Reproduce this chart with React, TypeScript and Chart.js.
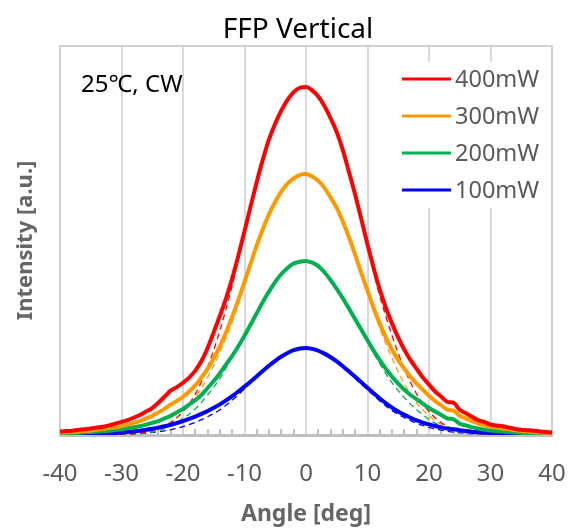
import React, { useEffect, useRef } from "react";
import { Chart, registerables } from "chart.js";

Chart.register(...registerables);

const FONT = '"Noto Sans", "Noto Sans CJK JP", sans-serif';

const chartTitle = "FFP Vertical";
const annotationText = "25℃, CW";
const xTitle = "Angle [deg]";
const yTitle = "Intensity [a.u.]";

const xTickValues = [-40, -30, -20, -10, 0, 10, 20, 30, 40];

const seriesLabels = ["400mW", "300mW", "200mW", "100mW"];
const seriesColors = ["#ff0000", "#ff9900", "#00b050", "#0000ff"];

// measured angles (deg)
const angles = [
  -40, -39, -38, -37, -36, -35, -34, -33, -32, -31, -30, -29, -28, -27, -26, -25, -24, -23, -22, -21,
  -20, -19, -18, -17, -16, -15, -14, -13, -12, -11, -10, -9, -8, -7, -6, -5, -4, -3, -2, -1,
  0, 1, 2, 3, 4, 5, 6, 7, 8, 9, 10, 11, 12, 13, 14, 15, 16, 17, 18, 19,
  20, 21, 22, 23, 24, 25, 26, 27, 28, 29, 30, 31, 32, 33, 34, 35, 36, 37, 38, 39, 40,
];

const meas400 = [
  0.04, 0.045, 0.05, 0.06, 0.065, 0.075, 0.085, 0.095, 0.11, 0.13, 0.15, 0.17, 0.2, 0.23, 0.27, 0.31, 0.37, 0.44, 0.51, 0.55,
  0.6, 0.66, 0.74, 0.85, 1.0, 1.18, 1.37, 1.57, 1.8, 2.06, 2.34, 2.63, 2.91, 3.17, 3.4, 3.58, 3.73, 3.85, 3.94, 3.99,
  4.0, 3.96, 3.89, 3.78, 3.64, 3.48, 3.27, 3.02, 2.76, 2.48, 2.19, 1.92, 1.67, 1.46, 1.28, 1.12, 0.98, 0.86, 0.76, 0.66,
  0.58, 0.5, 0.44, 0.38, 0.37, 0.29, 0.25, 0.21, 0.17, 0.15, 0.12, 0.11, 0.1, 0.085, 0.07, 0.06, 0.055, 0.05, 0.04, 0.035, 0.03,
];

const meas300 = [
  0.03, 0.03, 0.035, 0.04, 0.045, 0.05, 0.06, 0.07, 0.08, 0.09, 0.1, 0.12, 0.14, 0.16, 0.19, 0.22, 0.26, 0.3, 0.35, 0.39,
  0.44, 0.5, 0.57, 0.66, 0.76, 0.88, 1.02, 1.18, 1.36, 1.55, 1.76, 1.97, 2.18, 2.37, 2.54, 2.68, 2.8, 2.89, 2.95, 2.99,
  3.0, 2.97, 2.92, 2.84, 2.73, 2.61, 2.45, 2.27, 2.07, 1.86, 1.66, 1.46, 1.28, 1.12, 0.98, 0.86, 0.76, 0.67, 0.59, 0.52,
  0.45, 0.39, 0.34, 0.29, 0.28, 0.22, 0.19, 0.16, 0.13, 0.11, 0.095, 0.085, 0.075, 0.065, 0.055, 0.045, 0.04, 0.035, 0.03, 0.025, 0.02,
];

const meas200 = [
  0.015, 0.018, 0.02, 0.024, 0.028, 0.033, 0.038, 0.044, 0.05, 0.058, 0.067, 0.077, 0.088, 0.1, 0.12, 0.14, 0.16, 0.19, 0.22, 0.26,
  0.3, 0.35, 0.4, 0.46, 0.54, 0.62, 0.71, 0.81, 0.91, 1.02, 1.14, 1.27, 1.4, 1.53, 1.65, 1.76, 1.85, 1.92, 1.97, 1.99,
  2.0, 1.98, 1.94, 1.87, 1.78, 1.68, 1.57, 1.45, 1.33, 1.21, 1.09, 0.97, 0.86, 0.76, 0.67, 0.59, 0.52, 0.46, 0.41, 0.36,
  0.31, 0.27, 0.23, 0.19, 0.18, 0.13, 0.11, 0.09, 0.075, 0.062, 0.052, 0.045, 0.04, 0.034, 0.029, 0.024, 0.02, 0.017, 0.014, 0.012, 0.01,
];

const meas100 = [
  0.005, 0.006, 0.007, 0.008, 0.01, 0.012, 0.014, 0.017, 0.02, 0.024, 0.029, 0.035, 0.042, 0.05, 0.06, 0.072, 0.085, 0.1, 0.118, 0.138,
  0.16, 0.185, 0.212, 0.242, 0.275, 0.312, 0.352, 0.397, 0.447, 0.5, 0.556, 0.615, 0.676, 0.738, 0.798, 0.853, 0.902, 0.943, 0.975, 0.994,
  1.0, 0.99, 0.968, 0.935, 0.893, 0.845, 0.79, 0.73, 0.668, 0.605, 0.542, 0.48, 0.42, 0.365, 0.315, 0.27, 0.232, 0.198, 0.168, 0.143,
  0.122, 0.104, 0.088, 0.075, 0.066, 0.056, 0.046, 0.038, 0.032, 0.027, 0.022, 0.018, 0.015, 0.012, 0.01, 0.008, 0.007, 0.006, 0.005, 0.004, 0.004,
];

// fitted curves (dashed)
const fitAngles = [
  -40, -38, -36, -34, -32, -30, -28, -26, -24, -22, -20, -18, -16, -14, -12, -10, -8, -6, -4, -2,
  0, 2, 4, 6, 8, 10, 12, 14, 16, 18, 20, 22, 24, 26, 28, 30, 32, 34, 36, 38, 40,
];

const fit400 = [
  0, 0, 0, 0.002, 0.004, 0.008, 0.016, 0.035, 0.07, 0.14, 0.27, 0.47, 0.78, 1.2, 1.72, 2.32, 2.9, 3.38, 3.72, 3.93,
  4.0, 3.89, 3.64, 3.25, 2.74, 2.16, 1.6, 1.14, 0.76, 0.47, 0.27, 0.14, 0.07, 0.035, 0.016, 0.008, 0.004, 0.002, 0, 0, 0,
];

const fit300 = [
  0, 0, 0, 0.002, 0.004, 0.008, 0.02, 0.04, 0.08, 0.15, 0.27, 0.43, 0.66, 0.95, 1.3, 1.72, 2.16, 2.53, 2.79, 2.95,
  3.0, 2.92, 2.73, 2.44, 2.05, 1.63, 1.23, 0.88, 0.59, 0.37, 0.22, 0.12, 0.06, 0.03, 0.014, 0.006, 0.003, 0.001, 0, 0, 0,
];

const fit200 = [
  0, 0, 0, 0.001, 0.003, 0.006, 0.012, 0.025, 0.05, 0.11, 0.19, 0.3, 0.46, 0.65, 0.9, 1.16, 1.42, 1.66, 1.85, 1.97,
  2.0, 1.95, 1.8, 1.58, 1.33, 1.07, 0.82, 0.6, 0.43, 0.29, 0.18, 0.1, 0.055, 0.028, 0.014, 0.006, 0.003, 0.001, 0, 0, 0,
];

const fit100 = [
  0, 0, 0.001, 0.002, 0.004, 0.007, 0.012, 0.022, 0.038, 0.062, 0.097, 0.145, 0.21, 0.29, 0.4, 0.53, 0.66, 0.79, 0.9, 0.975,
  1.0, 0.97, 0.89, 0.78, 0.65, 0.52, 0.39, 0.28, 0.2, 0.135, 0.088, 0.055, 0.033, 0.019, 0.01, 0.005, 0.003, 0.001, 0, 0, 0,
];

const measured = [meas400, meas300, meas200, meas100];
const fits = [fit400, fit300, fit200, fit100];

const decorPlugin = {
  id: "decor",
  beforeDatasetsDraw(chart: any) {
    const { ctx, chartArea: ca, scales } = chart;
    const xs = scales.x;
    ctx.save();
    ctx.strokeStyle = "#d0d0d0";
    ctx.lineWidth = 2;
    ctx.beginPath();
    ctx.moveTo(ca.left, ca.top);
    ctx.lineTo(ca.right, ca.top);
    ctx.lineTo(ca.right, ca.bottom);
    ctx.stroke();
    ctx.strokeStyle = "#bfbfbf";
    ctx.lineWidth = 2;
    ctx.beginPath();
    for (let v = -38; v <= 38; v += 2) {
      if (v % 10 === 0) continue;
      const px = Math.round(xs.getPixelForValue(v));
      ctx.moveTo(px, ca.bottom);
      ctx.lineTo(px, ca.bottom - 6);
    }
    ctx.stroke();
    ctx.restore();
  },
  afterDraw(chart: any) {
    const { ctx, chartArea: ca } = chart;
    ctx.save();
    // title
    ctx.fillStyle = "#000";
    ctx.font = `28px ${FONT}`;
    ctx.textAlign = "center";
    ctx.textBaseline = "alphabetic";
    ctx.fillText(chartTitle, 298, 38);
    // annotation
    ctx.font = `24px ${FONT}`;
    ctx.textAlign = "left";
    ctx.fillText(annotationText, ca.left + 21, 92);
    // legend
    ctx.fillStyle = "#ffffff";
    ctx.fillRect(ca.right - 157, ca.top + 16, 154, 146);
    ctx.font = `23.5px ${FONT}`;
    ctx.textBaseline = "middle";
    seriesLabels.forEach((lab, i) => {
      const y = ca.top + 33 + i * 37;
      ctx.strokeStyle = seriesColors[i];
      ctx.lineWidth = 3;
      ctx.beginPath();
      ctx.moveTo(ca.right - 150, y);
      ctx.lineTo(ca.right - 101, y);
      ctx.stroke();
      ctx.fillStyle = "#595959";
      ctx.fillText(lab, ca.right - 97, y + 1);
    });
    ctx.restore();
  },
};

export default function App() {
  const ref = useRef<HTMLCanvasElement | null>(null);

  useEffect(() => {
    if (!ref.current) return;
    const solidSets = measured.map((arr, i) => ({
      label: seriesLabels[i],
      data: angles.map((a, j) => ({ x: a, y: arr[j] })),
      borderColor: seriesColors[i],
      backgroundColor: seriesColors[i],
      borderWidth: 4,
      pointRadius: 0,
      tension: 0.4,
      cubicInterpolationMode: "monotone" as const,
      fill: false,
    }));
    const fitSets = fits.map((arr, i) => ({
      label: seriesLabels[i] + " fit",
      data: fitAngles.map((a, j) => ({ x: a, y: arr[j] })),
      borderColor: seriesColors[i],
      backgroundColor: seriesColors[i],
      borderWidth: 1.3,
      borderDash: [6, 4],
      pointRadius: 0,
      tension: 0.4,
      cubicInterpolationMode: "monotone" as const,
      fill: false,
    }));

    const chart = new Chart(ref.current, {
      type: "line",
      data: { datasets: [...solidSets, ...fitSets] as any },
      options: {
        animation: false,
        responsive: false,
        devicePixelRatio: 1,
        layout: { padding: { top: 46, right: 27, left: 0, bottom: 0 } },
        plugins: {
          legend: { display: false },
          title: { display: false },
          tooltip: { enabled: false },
        },
        scales: {
          x: {
            type: "linear",
            min: -40,
            max: 40,
            afterFit: (s: any) => {
              s.height = 96;
              s.paddingLeft = 0;
              s.paddingRight = 0;
            },
            afterBuildTicks: (s: any) => {
              s.ticks = xTickValues.map((v) => ({ value: v }));
            },
            ticks: {
              font: { size: 24, family: FONT },
              color: "#595959",
              padding: 25,
              maxRotation: 0,
              autoSkip: false,
            },
            grid: { color: "#d9d9d9", lineWidth: 2, drawTicks: false },
            border: { color: "#bfbfbf", width: 3 },
            title: {
              display: true,
              text: xTitle,
              color: "#666666",
              font: { size: 23, weight: "bold", family: FONT },
              padding: { top: 0, bottom: 3 },
            },
          },
          y: {
            min: 0,
            max: 4.47,
            afterFit: (s: any) => {
              s.width = 60;
              s.paddingTop = 0;
              s.paddingBottom = 0;
            },
            ticks: { display: false },
            grid: { display: false },
            border: { color: "#d0d0d0", width: 2 },
            title: {
              display: true,
              text: yTitle,
              color: "#666666",
              font: { size: 22, weight: "bold", family: FONT },
              padding: { top: 13, bottom: 0 },
            },
          },
        },
      },
      plugins: [decorPlugin],
    });
    return () => chart.destroy();
  }, []);

  return (
    <div style={{ position: "fixed", left: 0, top: 0, width: 579, height: 531, background: "#fff" }}>
      <canvas ref={ref} width={579} height={531} style={{ width: 579, height: 531, display: "block" }} />
    </div>
  );
}
